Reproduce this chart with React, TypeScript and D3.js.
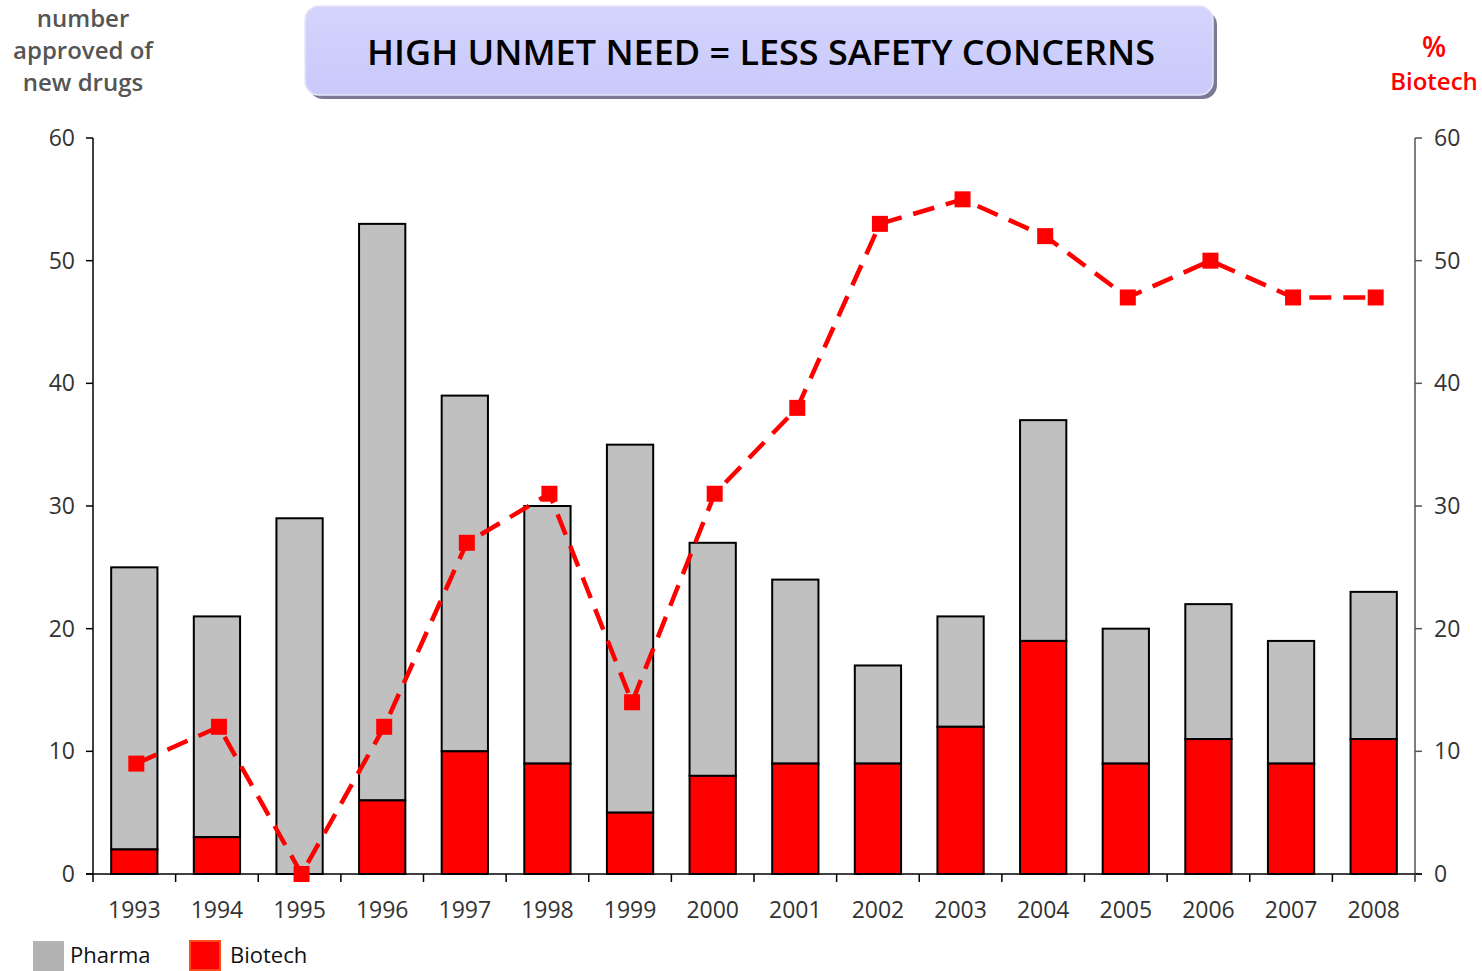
import React from "react";
import * as d3 from "d3";

const years = ["1993","1994","1995","1996","1997","1998","1999","2000","2001","2002","2003","2004","2005","2006","2007","2008"];
const totalDrugs = [25,21,29,53,39,30,35,27,24,17,21,37,20,22,19,23];
const biotechDrugs = [2,3,0,6,10,9,5,8,9,9,12,19,9,11,9,11];
const biotechPct = [9,12,0,12,27,31,14,31,38,53,55,52,47,50,47,47];
const yTicks = [0,10,20,30,40,50,60];
const titleText = "HIGH UNMET NEED = LESS SAFETY CONCERNS";
const leftAxisTitle = ["number", "approved of", "new drugs"];
const rightAxisTitle = ["%", "Biotech"];
const legendItems = ["Pharma", "Biotech"];

const FONT = "'Open Sans', 'DejaVu Sans', sans-serif";

export default function App() {
  const W = 1482, H = 971;
  const x0 = 93, x1 = 1415, yTop = 138, yBot = 874;
  const x = d3.scaleBand<string>().domain(years).range([x0, x1]).paddingInner(0.44).paddingOuter(0.22);
  const xb = d3.scaleBand<string>().domain(years).range([x0, x1]);
  const y = d3.scaleLinear().domain([0, 60]).range([yBot, yTop]);
  const y2 = d3.scaleLinear().domain([0, 60]).range([yBot, yTop]);
  const line = d3.line<number>()
    .x((_, i) => (xb(years[i]) as number) + xb.bandwidth() / 2 + 2)
    .y((d) => y2(d));
  const ms = 16;

  return (
    <svg width={W} height={H} style={{ position: "absolute", left: 0, top: 0, background: "#fff" }} fontFamily={FONT}>
      <defs>
        <linearGradient id="tb" x1="0" y1="0" x2="0" y2="1">
          <stop offset="0" stopColor="#d4d4fd" />
          <stop offset="1" stopColor="#c9c9fb" />
        </linearGradient>
      </defs>
      {/* title box */}
      <rect x={309} y={11} width={908} height={88} rx={14} fill="#7a7a98" />
      <rect x={305} y={6} width={908} height={89} rx={14} fill="url(#tb)" stroke="#e6e6f6" strokeWidth={1.5} />
      <text x={761} y={65} textAnchor="middle" fontSize={34} fontWeight={600} fill="#000" textLength={788} lengthAdjust="spacingAndGlyphs">{titleText}</text>

      {/* axis titles */}
      {leftAxisTitle.map((t, i) => (
        <text key={t} x={83} y={27 + i * 32} textAnchor="middle" fontSize={24} fontWeight={600} fill="#555">{t}</text>
      ))}
      <text x={1434} y={57} textAnchor="middle" fontSize={28} fontWeight={600} fill="#ff0000">{rightAxisTitle[0]}</text>
      <text x={1434} y={90} textAnchor="middle" fontSize={24} fontWeight={600} fill="#ff0000">{rightAxisTitle[1]}</text>

      {/* bars */}
      {years.map((yr, i) => {
        const bx = x(yr) as number;
        const bw = x.bandwidth();
        return (
          <g key={yr}>
            <rect x={bx} y={y(totalDrugs[i])} width={bw} height={y(biotechDrugs[i]) - y(totalDrugs[i])} fill="#c0c0c0" stroke="#000" strokeWidth={2} />
            {biotechDrugs[i] > 0 && (
              <rect x={bx} y={y(biotechDrugs[i])} width={bw} height={y(0) - y(biotechDrugs[i])} fill="#ff0000" stroke="#000" strokeWidth={2} />
            )}
          </g>
        );
      })}

      {/* left axis */}
      <line x1={x0} x2={x0} y1={yTop} y2={yBot} stroke="#000" strokeWidth={1.5} />
      {yTicks.map((t) => (
        <g key={"l" + t}>
          <line x1={x0 - 7} x2={x0} y1={y(t)} y2={y(t)} stroke="#000" strokeWidth={1.5} />
          <text x={75} y={y(t) + 8} textAnchor="end" fontSize={23} fill="#333">{t}</text>
        </g>
      ))}
      {/* right axis */}
      <line x1={x1} x2={x1} y1={yTop} y2={yBot + 7} stroke="#555" strokeWidth={1.5} />
      {yTicks.map((t) => (
        <g key={"r" + t}>
          <line x1={x1} x2={x1 + 7} y1={y2(t)} y2={y2(t)} stroke="#555" strokeWidth={1.5} />
          <text x={1434} y={y2(t) + 8} textAnchor="start" fontSize={23} fill="#333">{t}</text>
        </g>
      ))}
      {/* x axis */}
      <line x1={x0 - 7} x2={x1 + 7} y1={yBot} y2={yBot} stroke="#000" strokeWidth={1.5} />
      {years.map((yr) => (
        <line key={"t" + yr} x1={xb(yr) as number} x2={xb(yr) as number} y1={yBot} y2={yBot + 8} stroke="#000" strokeWidth={1.5} />
      ))}
      <line x1={x1} x2={x1} y1={yBot} y2={yBot + 8} stroke="#555" strokeWidth={1.5} />
      {years.map((yr) => (
        <text key={"yl" + yr} x={(xb(yr) as number) + xb.bandwidth() / 2} y={918} textAnchor="middle" fontSize={23} fill="#333">{yr}</text>
      ))}

      {/* percentage line */}
      <path d={line(biotechPct) as string} fill="none" stroke="#ff0000" strokeWidth={4.5} strokeDasharray="22 12" />
      {biotechPct.map((v, i) => (
        <rect key={"m" + i} x={(xb(years[i]) as number) + xb.bandwidth() / 2 + 2 - ms / 2} y={y2(v) - ms / 2} width={ms} height={ms} fill="#ff0000" />
      ))}

      {/* legend */}
      <rect x={33} y={941} width={31} height={30} fill="#b3b3b3" />
      <text x={70} y={963} fontSize={22} fill="#111">{legendItems[0]}</text>
      <rect x={190} y={941} width={30} height={29} fill="#ff0000" stroke="#ff4a1a" strokeWidth={2} />
      <text x={230} y={963} fontSize={22} fill="#111">{legendItems[1]}</text>
    </svg>
  );
}
